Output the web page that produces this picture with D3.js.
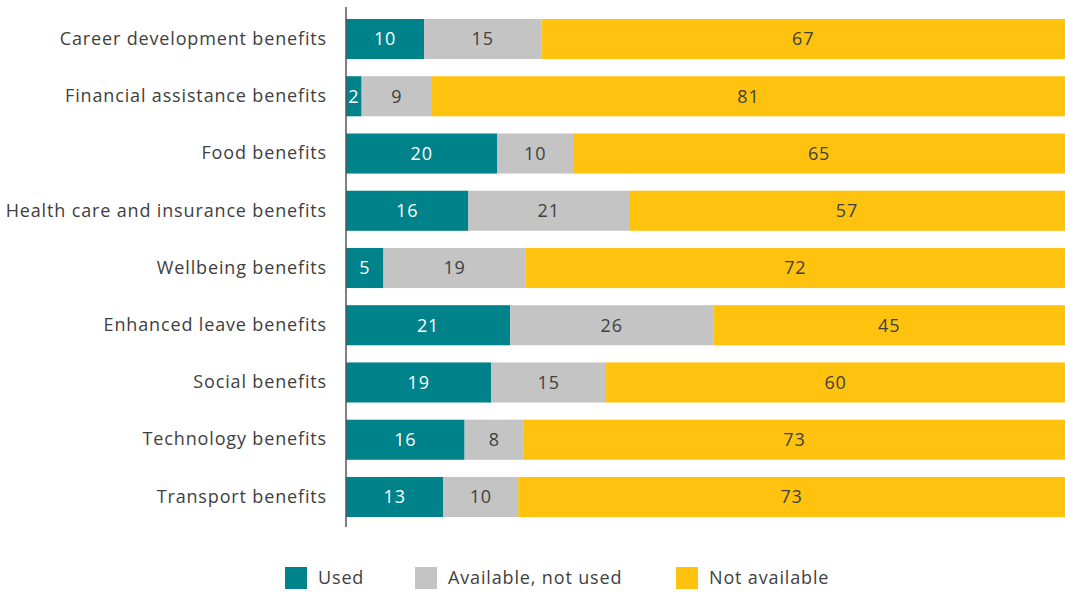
<!DOCTYPE html>
<html>
<head>
<meta charset="utf-8">
<script src="https://cdn.jsdelivr.net/npm/d3@7"></script>
<style>
  html, body { margin: 0; padding: 0; background: #fff; }
  svg { display: block; font-family: "Open Sans", Lato, sans-serif; letter-spacing: 0.85px; }
</style>
</head>
<body>
<svg id="chart" width="1065" height="592"></svg>
<script>
// Benefit categories, top to bottom
const categories = [
  "Career development benefits",
  "Financial assistance benefits",
  "Food benefits",
  "Health care and insurance benefits",
  "Wellbeing benefits",
  "Enhanced leave benefits",
  "Social benefits",
  "Technology benefits",
  "Transport benefits"
];
// Percentages per category
const used          = [10, 2, 20, 16, 5, 21, 19, 16, 13];
const availNotUsed  = [15, 9, 10, 21, 19, 26, 15, 8, 10];
const notAvailable  = [67, 81, 65, 57, 72, 45, 60, 73, 73];
const seriesNames   = ["Used", "Available, not used", "Not available"];

const colors = ["#00828A", "#C4C4C4", "#FFC20E"];
const labelColors = ["#FFFFFF", "#404040", "#404040"];
const fontSize = 18;

const svg = d3.select("#chart");
const x0 = 346, x1 = 1065;

const rows = categories.map((c, i) => ({
  category: c,
  values: [used[i], availNotUsed[i], notAvailable[i]]
}));

const y = d3.scaleBand()
  .domain(categories)
  .range([10.4, 525.6])
  .paddingInner(0.3)
  .paddingOuter(0.15);

const x = d3.scaleLinear().domain([0, 1]).range([x0, x1]);

// Stacked segments, each row spans the full width
const segs = [];
rows.forEach(r => {
  const total = d3.sum(r.values);
  let acc = 0;
  r.values.forEach((v, k) => {
    segs.push({ category: r.category, k, v, start: acc / total, end: (acc + v) / total });
    acc += v;
  });
});

const g = svg.append("g");
g.selectAll("rect.seg")
  .data(segs)
  .join("rect")
  .attr("class", "seg")
  .attr("x", d => x(d.start))
  .attr("width", d => x(d.end) - x(d.start))
  .attr("y", d => y(d.category))
  .attr("height", y.bandwidth())
  .attr("fill", d => colors[d.k]);

g.selectAll("text.val")
  .data(segs)
  .join("text")
  .attr("class", "val")
  .attr("x", d => (x(d.start) + x(d.end)) / 2)
  .attr("y", d => y(d.category) + y.bandwidth() / 2)
  .attr("dy", "0.35em")
  .attr("text-anchor", "middle")
  .attr("font-size", fontSize)
  .attr("fill", d => labelColors[d.k])
  .text(d => d.v);

// Category axis
const axis = svg.append("g")
  .attr("transform", `translate(${x0},0)`)
  .call(d3.axisLeft(y).tickSize(0).tickPadding(19));
axis.select(".domain").remove();
axis.selectAll("text")
  .attr("font-size", fontSize)
  .attr("font-family", "'Open Sans', Lato, sans-serif")
  .attr("fill", "#404040");
svg.append("line")
  .attr("x1", x0).attr("x2", x0)
  .attr("y1", 7).attr("y2", 527)
  .attr("stroke", "#555")
  .attr("stroke-width", 1.5);

// Legend
const legendX = [285, 415, 676];
const legend = svg.append("g");
seriesNames.forEach((name, k) => {
  legend.append("rect")
    .attr("x", legendX[k]).attr("y", 567)
    .attr("width", 22).attr("height", 22)
    .attr("fill", colors[k]);
  legend.append("text")
    .attr("x", legendX[k] + 33).attr("y", 578)
    .attr("dy", "0.35em")
    .attr("font-size", fontSize)
    .attr("fill", "#404040")
    .text(name);
});
</script>
</body>
</html>
